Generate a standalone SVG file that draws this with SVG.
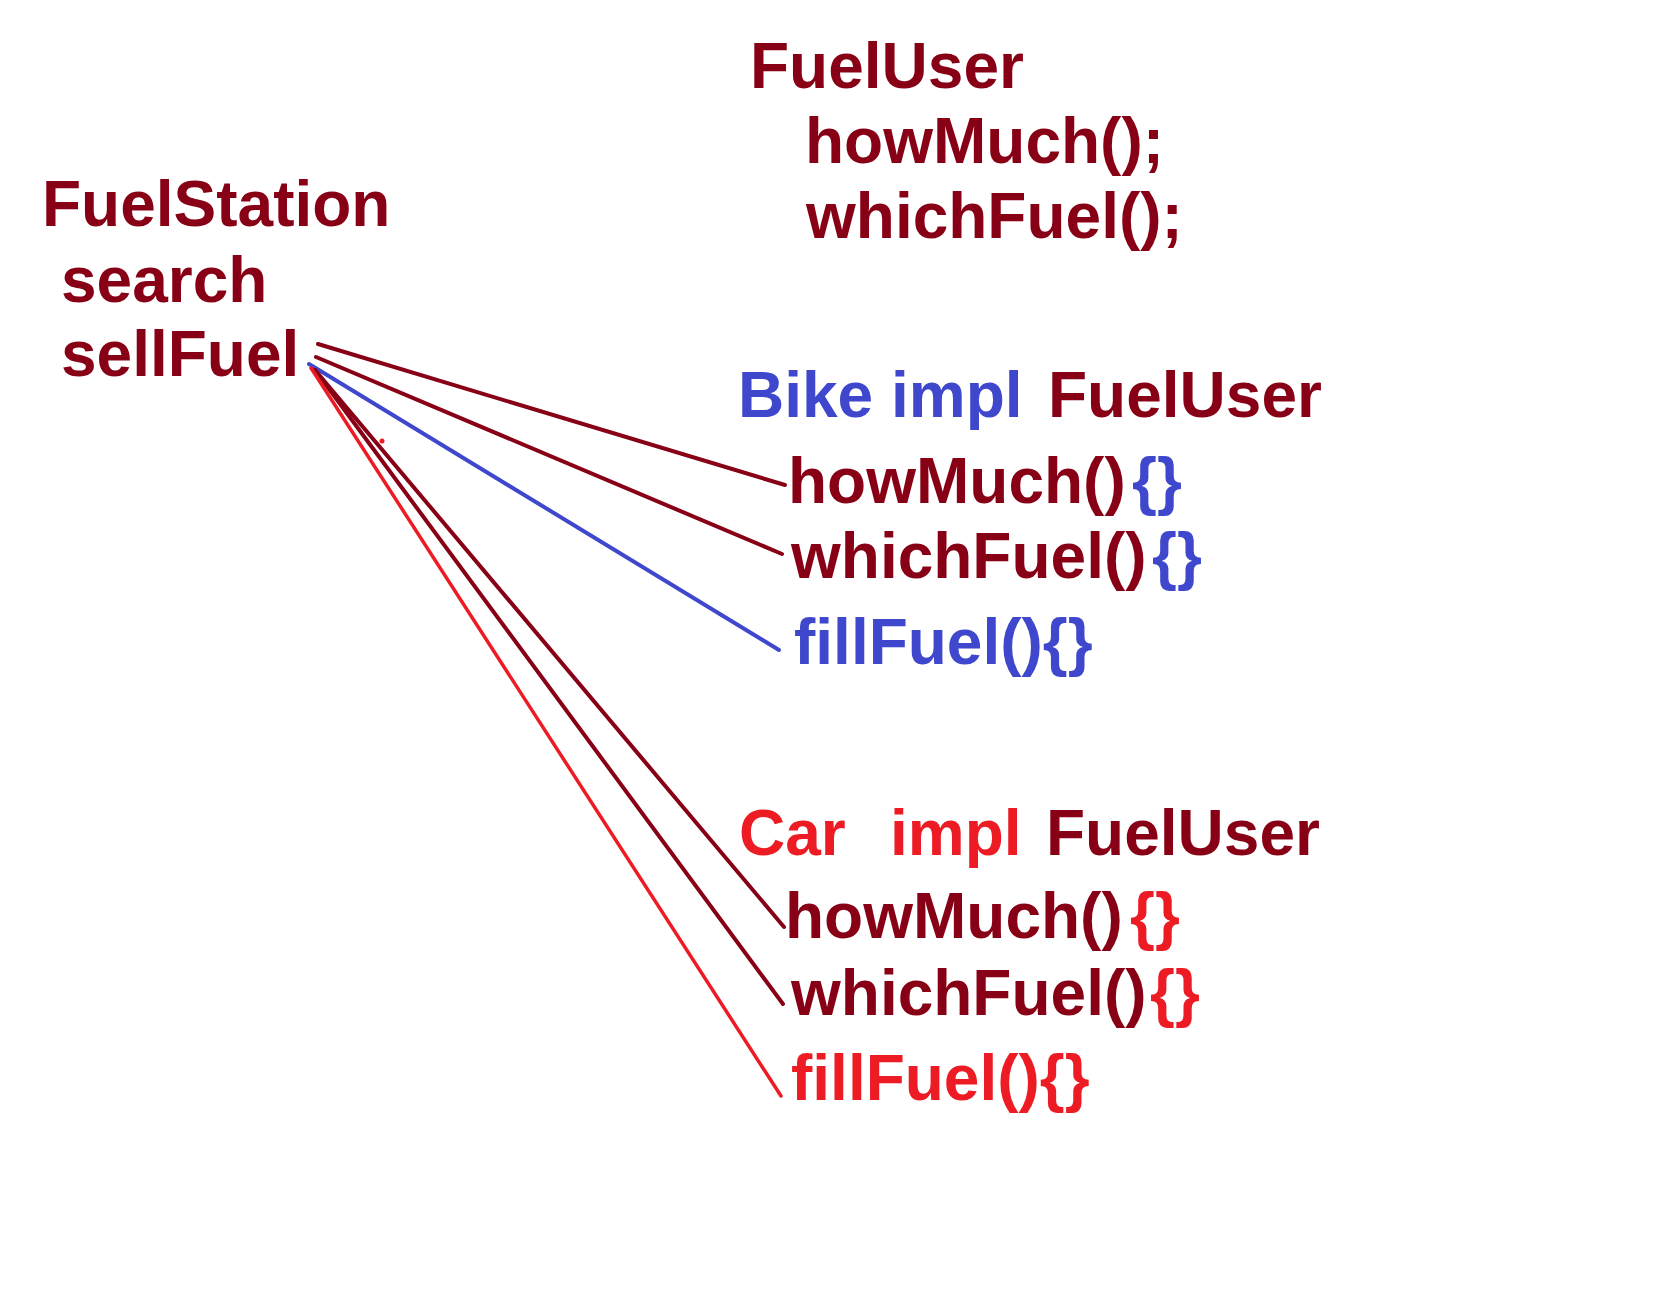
<svg xmlns="http://www.w3.org/2000/svg" width="1678" height="1294" viewBox="0 0 1678 1294">
<style>
text { font-family: "Liberation Sans", Arial, sans-serif; font-weight: bold; font-size: 64px; }
.dr { fill: #880015; }
.bl { fill: #3f48cc; }
.rd { fill: #ed1c24; }
.c-dr { stroke: #880015; stroke-width: 4; stroke-linecap: round; fill: none; }
.c-bl { stroke: #3f48cc; stroke-width: 4; stroke-linecap: round; fill: none; }
.c-rd { stroke: #ed1c24; stroke-width: 3.5; stroke-linecap: round; fill: none; }
</style>
<rect width="1678" height="1294" fill="#ffffff"/>
<g id="FuelUser">
  <text class="dr" x="750" y="88">FuelUser</text>
  <text class="dr" x="805" y="163">howMuch();</text>
  <text class="dr" x="806" y="238">whichFuel();</text>
</g>
<g id="FuelStation">
  <text class="dr" x="42" y="226">FuelStation</text>
  <text class="dr" x="61" y="302">search</text>
  <text class="dr" x="61" y="376">sellFuel</text>
</g>
<g id="Bike">
  <text class="bl" x="738" y="417">Bike</text>
  <text class="bl" x="891" y="417">impl</text>
  <text class="dr" x="1048" y="417">FuelUser</text>
  <text class="dr" x="788" y="503">howMuch()</text>
  <text class="bl" x="1132" y="503">{}</text>
  <text class="dr" x="791" y="578">whichFuel()</text>
  <text class="bl" x="1152" y="578">{}</text>
  <text class="bl" x="794" y="664">fillFuel(){}</text>
</g>
<g id="Car">
  <text class="rd" x="739" y="855">Car</text>
  <text class="rd" x="890" y="855">impl</text>
  <text class="dr" x="1046" y="855">FuelUser</text>
  <text class="dr" x="785" y="938">howMuch()</text>
  <text class="rd" x="1130" y="938">{}</text>
  <text class="dr" x="791" y="1015">whichFuel()</text>
  <text class="rd" x="1150" y="1015">{}</text>
  <text class="rd" x="791" y="1100">fillFuel(){}</text>
</g>
<g id="connectors">
  <line class="c-dr" x1="318" y1="344" x2="785" y2="485"/>
  <line class="c-dr" x1="316" y1="357" x2="782" y2="554"/>
  <line class="c-bl" x1="309" y1="364" x2="779" y2="650"/>
  <line class="c-dr" x1="315" y1="370" x2="784" y2="927"/>
  <line class="c-dr" x1="315" y1="370" x2="783" y2="1004"/>
  <line class="c-rd" x1="311" y1="368" x2="781" y2="1096"/>
  <circle cx="382" cy="441" r="2.5" fill="#ed1c24"/>
</g>
</svg>
